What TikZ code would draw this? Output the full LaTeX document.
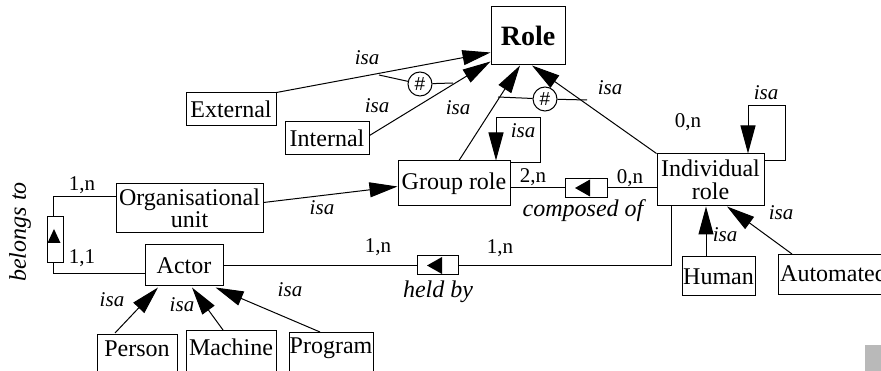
\documentclass[tikz,border=0pt]{standalone}
\usepackage{fontspec}
\setmainfont{Liberation Serif}
\newfontfamily\hashfont{Liberation Sans}
\usetikzlibrary{arrows.meta,calc}
\begin{document}
\begin{tikzpicture}[x=1pt,y=-1pt,
 every node/.style={inner sep=0pt},
 box/.style={draw, line width=1pt, font=\fontsize{24}{22.5}\selectfont, align=center},
 plain/.style={font=\fontsize{24}{22.5}\selectfont},
 lbl/.style={font=\fontsize{21}{21}\selectfont\itshape},
 num/.style={font=\fontsize{21}{21}\selectfont},
 rel/.style={font=\fontsize{24}{23}\selectfont\itshape},
 con/.style={line width=1pt},
 isaarrow/.style={con, -{Triangle[length=28pt,width=15pt]}},
 hashnode/.style={draw, circle, line width=1pt, minimum size=24pt, font=\hashfont\fontsize{19}{19}\selectfont},
 tri/.style={fill=black, draw=none}
]
\useasboundingbox (0,0) rectangle (881,371);
\clip (0,0) rectangle (881,371);

% boxes
\node[box, minimum width=74pt, minimum height=58pt, font=\fontsize{28}{28}\selectfont\bfseries] (role) at (528,36) {Role};
\node[box, minimum width=90pt, minimum height=33pt] (ext) at (231,109.5) {External};
\node[box, minimum width=84pt, minimum height=33pt] (int) at (327,138.5) {Internal};
\node[box, minimum width=112pt, minimum height=45pt] (group) at (454,183.5) {Group role};
\node[box, minimum width=107pt, minimum height=52pt] (indiv) at (710.5,180) {Individual\\role};
\node[box, minimum width=147pt, minimum height=49pt] (org) at (189.5,208.5) {Organisational\\unit};
\node[box, minimum width=78pt, minimum height=41pt] (actor) at (184,265.5) {Actor};
\node[box, minimum width=73pt, minimum height=39pt] (human) at (718.5,276.5) {Human};

\node[draw, line width=1pt, minimum width=80pt, minimum height=60pt, anchor=north] (personbox) at (137,334) {};
\node[plain] (persont) at (137,349) {Person};
\node[draw, line width=1pt, minimum width=90pt, minimum height=60pt, anchor=north] (machinebox) at (231,330) {};
\node[plain] (machinet) at (231,347) {Machine};
\node[draw, line width=1pt, minimum width=84pt, minimum height=60pt, anchor=north] (programbox) at (331,332) {};
\node[plain] (programt) at (331,348) {Program};
\node[draw, line width=1pt, minimum width=130pt, minimum height=40pt, anchor=north west] (autobox) at (778,254) {};
\node[plain, anchor=west] (autot) at (780,273) {Automated};

% relationship boxes
\node[draw, line width=1pt, minimum width=42pt, minimum height=19pt] (cbox) at (586,188) {};
\fill[tri] ($(cbox.center)+(-11,0)$) -- ($(cbox.center)+(4,-8.5)$) -- ($(cbox.center)+(4,8.5)$) -- cycle;
\node[draw, line width=1pt, minimum width=41pt, minimum height=19pt] (hbox) at (437.5,265.5) {};
\fill[tri] ($(hbox.center)+(-10.5,0)$) -- ($(hbox.center)+(4.5,-8.5)$) -- ($(hbox.center)+(4.5,8.5)$) -- cycle;
\node[draw, line width=1pt, minimum width=16pt, minimum height=46pt] (bbox) at (55,240) {};
\fill[tri] ($(bbox.center)+(-1,-11)$) -- ($(bbox.center)+(-7.5,3)$) -- ($(bbox.center)+(5.5,3)$) -- cycle;

% isa arrows to Role
\draw[isaarrow] (ext.north east) -- ($(role.south west)+(0,-13)$);
\draw[isaarrow] ($(int.east)+(0,-3)$) -- ($(role.south west)+(0,-4)$);
\draw[isaarrow] ($(group.north)+(5,0)$) -- ($(role.south)+(-8,0)$);
\draw[isaarrow] (indiv.north west) -- ($(role.south)+(4,0)$);

% self loops
\draw[isaarrow] ($(group.north east)+(0,2)$) -- ++(30,0) -- ++(0,-45) -- ($(group.north)+(42,-43)$) -- ($(group.north)+(42,0)$);
\draw[isaarrow] ($(indiv.north east)+(0,7)$) -- ++(21,0) -- ++(0,-55) -- ($(indiv.north)+(37.5,-48)$) -- ($(indiv.north)+(37.5,0)$);

% exclusion marks
\node[hashnode] (hash1) at (420,84) {\#};
\coordinate (h1a) at (379,75);
\coordinate (h1b) at (453,83);
\draw[con] (h1a) -- (hash1);
\draw[con] (hash1) -- (h1b);
\node[hashnode] (hash2) at (545,99) {\#};
\coordinate (h2a) at (498,97);
\coordinate (h2b) at (587,100);
\draw[con] (h2a) -- (hash2);
\draw[con] (hash2) -- (h2b);

% other isa arrows
\draw[isaarrow] ($(org.east)+(0,-6)$) -- ($(group.west)+(0,3)$);
\draw[isaarrow] ($(personbox.north)+(-22,-1)$) -- ($(actor.south)+(-26,1)$);
\draw[isaarrow] ($(machinebox.north)+(-8,0)$) -- ($(actor.south)+(8,1)$);
\draw[isaarrow] ($(programbox.north)+(-11,0)$) -- ($(actor.south east)+(-8,1)$);
\draw[isaarrow] ($(human.north)+(-12.5,0)$) -- ($(indiv.south)+(-4.5,0)$);
\draw[isaarrow] ($(autobox.north west)+(14,0)$) -- ($(indiv.south)+(16.5,0)$);

% relationships
\draw[con] ($(group.east)+(0,4.5)$) -- (cbox.west);
\draw[con] (cbox.east) -- (indiv.west |- cbox.east);
\draw[con] (actor.east) -- (hbox.west);
\draw[con] (hbox.east) -| ($(indiv.south west)+(15,0)$);
\draw[con] ($(org.west)+(0,-11.5)$) -| ($(bbox.north)+(-2,0)$);
\draw[con] ($(bbox.south)+(-2,0)$) |- ($(actor.west)+(0,8.5)$);

% labels
\node[lbl] (l1) at (367,58) {isa};
\node[lbl] (l2) at (377,106) {isa};
\node[lbl] (l3) at (458,108) {isa};
\node[lbl] (l4) at (610,88) {isa};
\node[lbl] (l5) at (523,131) {isa};
\node[lbl] (l6) at (766,93) {isa};
\node[lbl] (l7) at (322,208) {isa};
\node[lbl] (l8) at (725,235) {isa};
\node[lbl] (l9) at (781,213) {isa};
\node[lbl] (l10) at (112,300) {isa};
\node[lbl] (l11) at (182,305) {isa};
\node[lbl] (l12) at (290,290) {isa};

\node[num] (n1) at (533,177) {2,n};
\node[num] (n2) at (630,178) {0,n};
\node[num] (n3) at (688,122) {0,n};
\node[num] (n4) at (378,247) {1,n};
\node[num] (n5) at (500,248) {1,n};
\node[num] (n6) at (82,185) {1,n};
\node[num] (n7) at (82,258) {1,1};

\node[rel] (r1) at (583,211) {composed of};
\node[rel] (r2) at (438,292) {held by};
\node[rel, rotate=90] (r3) at (20,232) {belongs to};

% corner mark
\fill[gray!55] (865,345) rectangle (881,371);
\end{tikzpicture}
\end{document}
